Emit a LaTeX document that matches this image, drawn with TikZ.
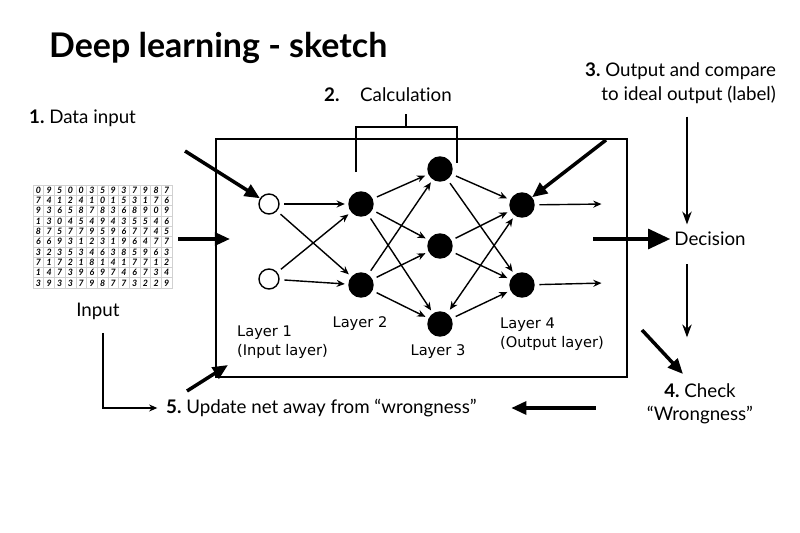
\documentclass[tikz,border=0pt]{standalone}
\usepackage{fontspec}
\setmainfont{Lato}[Ligatures=NoCommon]
\newfontfamily\layerfont{DejaVu Sans}
\usetikzlibrary{arrows.meta, positioning}

\begin{document}
\begin{tikzpicture}[x=0.03cm, y=-0.03cm, on grid, font=\fontsize{16}{20}\selectfont,
    neuron/.style={circle, draw, line width=1.2pt, inner sep=0pt},
    inputn/.style={neuron, minimum size=0.6cm},
    hidden/.style={neuron, fill=black, minimum size=0.72cm},
    link/.style={-{Stealth[length=7pt,width=6pt]}, line width=1.2pt, shorten <=4pt, shorten >=3pt},
    bigarrow/.style={-{Triangle[length=13pt,width=11pt]}, line width=3pt},
    thinarrow/.style={-{Stealth[length=11pt,width=8pt]}, line width=1.5pt},
    layer/.style={font=\layerfont\fontsize{12.5}{16}\selectfont, align=left},
    digitcell/.style={draw=black!18, minimum width=0.321cm, minimum height=0.309cm, inner sep=0pt,
      font=\fontsize{7.5}{7.5}\selectfont\bfseries\itshape}]
  \useasboundingbox (0,0) rectangle (800,533);

  \node[anchor=west, font=\fontsize{29}{32}\selectfont\bfseries] (title) at (45,48) {Deep learning - sketch};
  \node[anchor=west] (s_1) at (25,118) {\textbf{1.}~Data input};
  \node (s_2) at (388,95) {\textbf{2.}\hspace{1.1em}Calculation};
  \node[anchor=east, align=right] (s_3) at (780,83) {\textbf{3.}~Output and compare\\to ideal output (label)};
  \node (dec) at (710,239) {Decision};
  \node[align=center] (s_4) at (700,404) {\textbf{4.}~Check\\“Wrongness”};
  \node[anchor=west] (s_5) at (162,408) {\textbf{5.}~Update net away from “wrongness”};
  \node (inp) at (98,311) {Input};

  \foreach \row [count=\r] in {{0,9,5,0,0,3,5,9,3,7,9,8,7},{7,4,1,2,4,1,0,1,5,3,1,7,6},
      {9,3,6,5,8,7,8,3,6,8,9,0,9},{1,3,0,4,5,4,9,4,3,5,5,4,6},{8,7,5,7,7,9,5,9,6,7,7,4,5},
      {6,6,9,3,1,2,3,1,9,6,4,7,7},{3,2,3,5,3,4,6,3,8,5,9,6,3},{7,1,7,2,1,8,1,4,1,7,7,1,2},
      {1,4,7,3,9,6,9,7,4,6,7,3,4},{3,9,3,3,7,9,8,7,7,3,2,2,9}}
    \foreach \d [count=\c] in \row
      \node[digitcell] (d_\r_\c) at (27.65+10.7*\c, 179.85+10.3*\r) {\d};

  \draw[line width=2pt] (216,139) rectangle (627,377);
  \draw[line width=1.8pt] (356,172) |- (457,127) -- (457,163);
  \draw[line width=1.8pt] (406,127) -- (406,114);

  \node[inputn] (l1_1) at (269,204) {};
    \node[inputn] (l1_2) [below=2.25cm of l1_1] {};
  \node[hidden] (l2_1) [right=2.76cm of l1_1] {};
    \node[hidden] (l2_2) [below=2.43cm of l2_1] {};
  \node[hidden] (l3_1) [above right=1.05cm and 2.37cm of l2_1] {};
    \node[hidden] (l3_2) [below=2.31cm of l3_1] {};
    \node[hidden] (l3_3) [below=2.34cm of l3_2] {};
  \node[hidden] (l4_1) [below right=1.08cm and 2.46cm of l3_1] {};
    \node[hidden] (l4_2) [below=2.4cm of l4_1] {};

  \coordinate (o_1) at (605,204);
  \coordinate (o_2) at (605,283);

  \foreach \a in {1,2}
    \foreach \b in {1,2}
      \draw[link] (l1_\a) -- (l2_\b);
  \foreach \a in {1,2}
    \foreach \b in {1,2,3}
      \draw[link] (l2_\a) -- (l3_\b);
  \foreach \a in {1,2}
    \foreach \b in {1,2}
      \draw[link] (l3_\a) -- (l4_\b);
  \draw[link, {Stealth[length=7pt,width=6pt]}-{Stealth[length=7pt,width=6pt]}] (l3_3) -- (l4_1);
  \draw[link] (l3_3) -- (l4_2);
  \draw[link] (l4_1) -- (o_1);
  \draw[link] (l4_2) -- (o_2);

  \node[layer, anchor=west] (lab_1) at (233,342) {Layer 1\\(Input layer)};
  \node[layer] (lab_2) at (360,324) {Layer 2};
  \node[layer] (lab_3) at (438,352) {Layer 3};
  \node[layer, anchor=west] (lab_4) at (496,334) {Layer 4\\(Output layer)};

  \coordinate (a_1) at (185,151);
  \coordinate (a_2) at (178,239);
  \coordinate (a_3) at (230,239);
  \coordinate (a_4) at (606,140);
  \coordinate (a_5) at (593,239);
  \coordinate (a_6) at (642,330);
  \coordinate (a_7) at (683,374);
  \coordinate (a_8) at (187,391);
  \coordinate (a_9) at (228,365);
  \coordinate (v_1) at (687,0);

  \draw[bigarrow] (a_1) -- (l1_1);
  \draw[bigarrow] (a_2) -- (a_3);
  \draw[bigarrow] (a_4) -- (l4_1);
  \draw[bigarrow, -{Triangle[length=19pt,width=17pt]}] (a_5) -- (dec);
  \draw[bigarrow] (a_6) -- (a_7);
  \draw[bigarrow] (a_8) -- (a_9);
  \draw[bigarrow, shorten <=40pt, shorten >=26pt] (s_4.west |- s_5) -- (s_5.east);
  \draw[thinarrow, shorten <=8pt, shorten >=3pt] (s_3.south -| v_1) -- (dec.north -| v_1);
  \draw[thinarrow, shorten <=12pt, shorten >=36pt] (dec.south -| v_1) -- (s_4.north -| v_1);
  \draw[link, line width=1.5pt, shorten <=8pt, shorten >=4pt] ([xshift=4]inp.south) |- (s_5.west);
\end{tikzpicture}
\end{document}
